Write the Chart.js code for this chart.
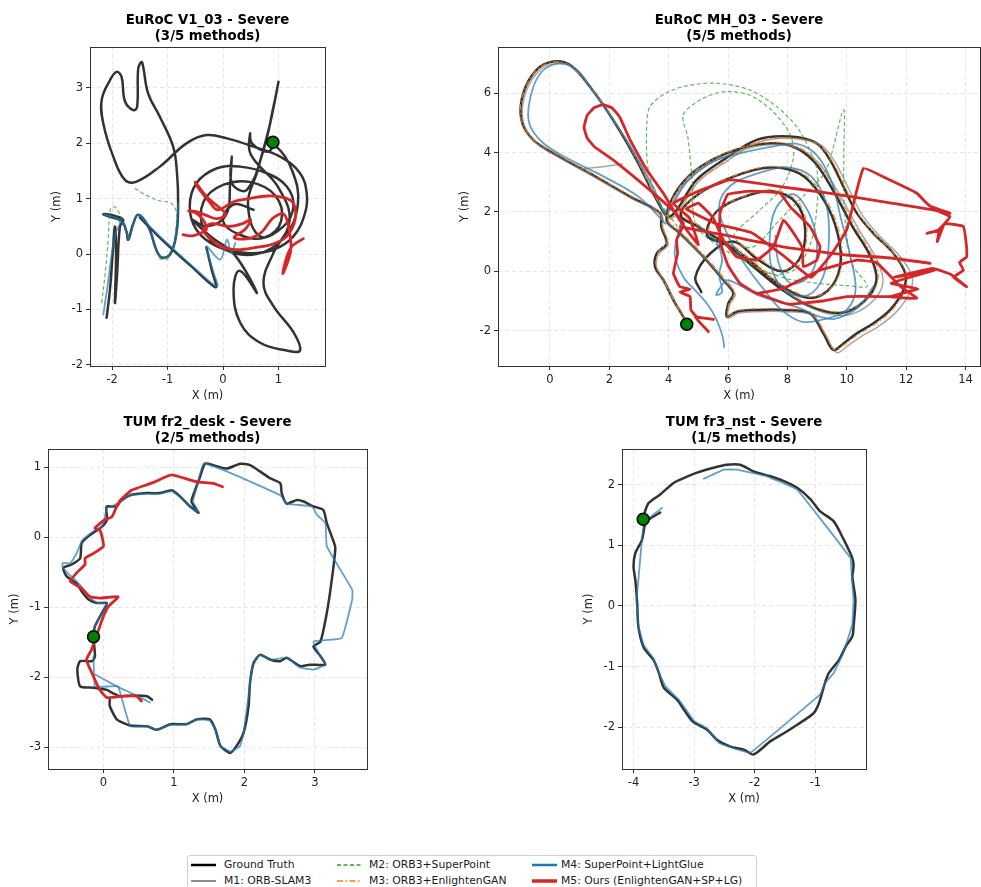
<!DOCTYPE html>
<html>
<head>
<meta charset="utf-8">
<script src="https://cdn.jsdelivr.net/npm/chart.js@4.4.1/dist/chart.umd.min.js"></script>
<style>
  html,body{margin:0;padding:0;background:#fff;}
  body{width:981px;height:887px;overflow:hidden;position:relative;font-family:"DejaVu Sans",sans-serif;}
  canvas{position:absolute;}
  #legend{position:absolute;left:187px;top:855px;width:570px;height:40px;border:1px solid #d0d0d0;border-radius:3px;background:#fff;box-sizing:border-box;}
  .li{position:absolute;font-size:10.8px;color:#1a1a1a;white-space:nowrap;line-height:12px;}
  .ls{position:absolute;}
</style>
</head>
<body>
<canvas id="c1"></canvas>
<canvas id="c2"></canvas>
<canvas id="c3"></canvas>
<canvas id="c4"></canvas>
<div id="legend"></div>
<script>
// ---------------- titles / labels ----------------
const titles = [
  ["EuRoC V1_03 - Severe", "(3/5 methods)"],
  ["EuRoC MH_03 - Severe", "(5/5 methods)"],
  ["TUM fr2_desk - Severe", "(2/5 methods)"],
  ["TUM fr3_nst - Severe", "(1/5 methods)"]
];
const legendLabels = ["Ground Truth", "M1: ORB-SLAM3", "M2: ORB3+SuperPoint", "M3: ORB3+EnlightenGAN", "M4: SuperPoint+LightGlue", "M5: Ours (EnlightenGAN+SP+LG)"];

// ---------------- EuRoC V1_03 ----------------
const v1GT = [[-2.10,-1.15],[-2.04,-0.64],[-1.99,0.02],[-1.95,0.50],[-1.93,-0.04],[-1.95,-0.88],[-1.91,-0.34],[-1.86,0.50],[-1.80,0.62],[-1.95,0.69],[-2.16,0.72],[-2.03,0.67],[-1.83,0.60],[-1.74,0.40],[-1.71,0.26],[-1.62,0.55],[-1.53,0.71],[-1.35,0.50],[-1.14,-0.04],[-0.96,-0.01],[-0.84,0.38],[-0.81,0.92],[-0.83,1.46],[-0.90,1.94],[-1.14,2.48],[-1.35,2.90],[-1.44,3.38],[-1.47,3.47],[-1.53,3.35],[-1.55,2.66],[-1.62,2.60],[-1.77,2.76],[-1.83,3.20],[-1.92,3.29],[-2.04,3.14],[-2.19,2.78],[-2.16,2.36],[-1.98,1.76],[-1.77,1.34],[-1.56,1.31],[-1.14,1.58],[-0.66,2.00],[-0.30,2.15],[0.07,2.09],[0.55,1.94],[1.03,1.76],[1.39,1.46],[1.51,1.10],[1.48,0.74],[1.27,0.32],[0.91,0.08],[0.43,0.02],[-0.11,0.14],[-0.48,0.44],[-0.60,0.86],[-0.48,1.28],[-0.11,1.55],[0.31,1.58],[0.79,1.46],[1.15,1.22],[1.27,0.86],[1.09,0.50],[0.67,0.32],[0.45,0.90],[0.62,1.50],[0.85,2.36],[1.00,3.11],[0.91,2.66],[0.73,1.88],[0.43,1.16],[0.16,1.28],[0.16,1.76],[0.13,1.30],[0.05,0.70],[-0.30,0.50],[-0.55,0.62],[-0.20,0.30],[0.20,0.00],[0.61,-0.70],[0.30,-0.30],[0.19,-0.64],[0.31,-1.24],[0.67,-1.60],[1.15,-1.74],[1.39,-1.74],[1.27,-1.41],[0.91,-0.94],[0.73,-0.52],[0.90,0.00],[1.20,0.60],[1.00,1.20],[0.50,1.80],[0.49,2.18],[0.52,2.00],[0.80,1.85],[0.95,1.95],[1.25,1.50],[1.35,0.90],[1.10,0.30],[0.60,0.00],[0.00,0.10],[-0.35,0.45],[-0.35,0.95],[0.00,1.25],[0.50,1.30],[0.95,1.05],[1.05,0.60],[0.75,0.30],[0.30,0.35],[0.00,0.60],[0.20,0.90],[0.55,0.80]];
const v1GTb = [[-1.50,0.66],[-1.10,0.26],[-0.55,-0.24],[-0.13,-0.60],[-0.20,-0.30],[-0.30,0.12]];
const v1M2a = [[-2.19,-0.88],[-2.12,-0.30],[-2.07,0.30],[-2.03,0.82],[-1.95,0.85],[-1.86,0.72],[-1.80,0.55],[-1.74,0.38],[-1.68,0.28]];
const v1M2b = [[-1.59,1.19],[-1.40,1.07],[-1.14,0.96],[-0.95,0.93],[-0.84,0.76],[-0.86,0.40],[-0.90,0.08],[-1.02,-0.10],[-1.15,-0.08]];
const v1M4a = [[-2.16,-1.09],[-2.08,-0.55],[-2.00,0.05],[-1.93,0.40],[-1.86,0.58],[-2.00,0.68],[-2.16,0.72],[-2.02,0.68],[-1.83,0.60],[-1.74,0.40],[-1.70,0.26],[-1.62,0.55],[-1.53,0.71],[-1.35,0.50],[-1.14,-0.04],[-0.96,-0.01],[-0.84,0.38],[-0.81,0.92]];
const v1M4b = [[-1.50,0.68],[-1.10,0.28],[-0.55,-0.22],[-0.11,-0.58],[-0.17,-0.33],[-0.30,0.14],[-0.05,-0.10],[0.07,0.26],[0.15,0.02],[0.22,0.20]];
const v1M5 = [[-0.72,0.35],[-0.55,0.33],[-0.40,0.38],[-0.30,0.45],[-0.36,0.62],[-0.50,0.75],[-0.62,0.78],[-0.45,0.76],[-0.30,0.70],[-0.11,0.64],[0.05,0.72],[-0.08,0.85],[-0.30,1.04],[-0.50,1.30],[-0.45,1.20],[-0.25,0.95],[-0.10,0.80],[0.20,0.95],[0.45,1.00],[0.80,1.05],[1.10,1.02],[1.27,0.92],[1.30,0.62],[1.15,0.32],[0.90,0.18],[0.60,0.12],[0.25,0.08],[-0.05,0.14],[-0.25,0.30],[-0.36,0.44],[-0.20,0.55],[0.10,0.50],[0.35,0.55],[0.50,0.62],[0.40,0.45],[0.20,0.30],[0.45,0.28],[0.70,0.40],[0.90,0.65],[1.10,0.72],[1.20,0.40],[1.22,0.05],[1.08,-0.35],[1.15,-0.05],[1.25,0.15],[1.45,0.28]];
const v1Start = [[0.90,2.02]];

// ---------------- EuRoC MH_03 ----------------
const v2GT = [[4.61,-1.78],[4.49,-1.53],[4.16,-0.97],[3.82,-0.29],[3.54,0.16],[3.60,0.61],[3.93,0.94],[3.75,1.50],[3.71,1.96],[2.70,2.52],[1.35,3.30],[0.22,3.92],[-0.56,4.43],[-0.96,5.10],[-0.90,6.00],[-0.45,6.79],[0.11,7.07],[0.67,6.96],[1.35,6.22],[2.13,5.10],[2.92,3.75],[3.60,2.40],[4.04,1.84],[4.94,3.08],[5.84,3.75],[6.97,4.43],[8.09,4.54],[8.99,4.31],[9.44,3.75],[9.89,2.85],[10.34,1.96],[10.90,1.28],[11.57,0.61],[11.97,-0.07],[11.91,-0.63],[11.46,-1.30],[10.90,-1.75],[10.34,-2.09],[9.89,-2.43],[9.55,-2.65],[9.21,-2.09],[8.76,-1.42],[7.87,-1.30],[6.97,-1.30],[6.29,-1.36],[5.96,-1.53],[6.01,-1.08],[6.18,-0.74],[5.84,-0.29],[5.17,0.49],[4.38,1.28],[3.93,1.73],[4.20,2.60],[4.90,3.40],[6.00,4.00],[7.20,4.30],[8.20,4.20],[8.90,3.70],[9.50,2.80],[10.20,1.50],[10.80,0.50],[11.00,-0.30],[10.60,-1.00],[9.80,-1.40],[8.80,-1.20],[7.80,-0.60],[6.80,0.20],[5.80,1.00],[5.00,1.50],[4.40,1.90],[5.00,2.60],[6.20,3.20],[7.40,3.50],[8.40,3.30],[9.10,2.60],[9.60,1.60],[9.80,0.40],[9.50,-0.50],[8.80,-0.90],[7.80,-0.50],[6.80,0.30],[6.00,0.90],[5.30,1.20],[5.60,2.00],[6.50,2.50],[7.50,2.70],[8.30,2.30],[8.60,1.40],[8.40,0.40],[7.80,0.00],[7.00,0.40],[6.20,1.00],[5.40,0.60],[4.90,-0.20],[5.10,-0.70]];
const v2M1a = [[4.66,-1.82],[4.55,-1.58],[4.22,-1.02],[3.88,-0.34],[3.60,0.10],[3.65,0.56],[3.98,0.90],[3.80,1.45],[3.76,1.90],[2.76,2.45],[1.42,3.22],[0.30,3.84],[-0.50,4.36],[-0.90,5.05],[-0.84,5.95],[-0.40,6.72],[0.14,7.00],[0.70,6.90],[1.40,6.18],[2.18,5.06],[2.98,3.70],[3.66,2.35],[4.10,1.78],[5.00,3.02],[5.92,3.68],[7.06,4.36],[8.20,4.48],[9.12,4.26],[9.60,3.70],[10.06,2.80],[10.52,1.90],[11.10,1.20],[11.78,0.52],[12.20,-0.16],[12.12,-0.72],[11.64,-1.40],[11.06,-1.86],[10.48,-2.20],[10.02,-2.52],[9.66,-2.74],[9.30,-2.16],[8.84,-1.48],[7.92,-1.36],[7.00,-1.36],[6.32,-1.42],[6.00,-1.58],[6.06,-1.12],[6.24,-0.78],[5.90,-0.34],[5.22,0.44],[4.44,1.22],[3.98,1.68],[4.26,2.56],[4.98,3.36],[6.10,3.96],[7.32,4.26],[8.34,4.16],[9.06,3.64],[9.68,2.72],[10.40,1.42],[11.00,0.42],[11.22,-0.38],[10.80,-1.08],[9.96,-1.48],[8.92,-1.28],[7.90,-0.66]];
const v2M1b = [[1.00,3.45],[1.70,3.52],[2.45,3.62]];
const v2M2 = [[4.30,1.50],[3.60,2.50],[3.30,3.50],[3.26,4.88],[3.37,5.55],[3.90,6.00],[4.60,6.25],[5.62,6.34],[6.74,6.11],[7.64,5.55],[8.31,4.88],[8.70,4.20],[9.00,3.40],[9.00,2.20],[8.80,1.00],[8.30,0.10],[7.50,-0.10],[6.50,0.40],[5.60,0.90],[4.90,1.60],[4.80,3.00],[4.65,4.50],[4.49,5.27],[5.10,5.80],[5.84,6.05],[6.70,5.95],[7.50,5.40],[8.10,4.60],[8.20,3.80],[7.80,2.80],[7.00,2.00],[6.20,1.20],[6.80,0.80],[7.80,1.80],[8.60,2.60],[9.30,3.40],[9.89,5.44],[9.90,4.00],[9.90,2.60],[10.00,1.20],[10.20,0.20],[10.70,-0.50],[10.00,-0.48],[9.00,-0.40],[8.00,-0.25],[7.00,0.10]];
const v2M3 = [[4.55,-1.70],[4.40,-1.40],[4.10,-0.85],[3.78,-0.20],[3.58,0.25],[3.66,0.66],[3.95,1.00],[3.78,1.55],[3.68,2.00],[2.66,2.58],[1.30,3.36],[0.18,3.98],[-0.60,4.50],[-0.98,5.15],[-0.88,6.05],[-0.40,6.82],[0.16,7.06],[0.72,6.92],[1.40,6.16],[2.18,5.04],[2.97,3.70],[3.64,2.36],[4.08,1.80],[4.98,3.02],[5.90,3.70],[7.02,4.38],[8.12,4.48],[9.05,4.25],[9.52,3.70],[9.96,2.80],[10.42,1.90],[10.98,1.22],[11.62,0.56],[12.02,-0.12],[11.96,-0.66],[11.52,-1.32],[10.96,-1.78],[10.40,-2.12],[9.94,-2.46],[9.58,-2.62],[9.25,-2.05],[8.80,-1.38],[7.90,-1.26],[7.00,-1.26],[6.32,-1.32],[6.00,-1.50],[6.05,-1.04],[6.22,-0.70],[5.88,-0.24],[5.20,0.54],[4.42,1.32],[3.97,1.77],[4.25,2.64],[4.96,3.44],[6.06,4.04],[7.26,4.34],[8.26,4.24],[8.96,3.74],[9.56,2.84],[10.26,1.54],[10.86,0.54],[11.06,-0.26],[10.66,-0.96],[9.86,-1.36],[8.86,-1.16],[7.86,-0.56],[6.86,0.24],[5.86,1.04],[5.06,1.54],[4.46,1.94],[5.06,2.64],[6.26,3.24],[7.46,3.54],[8.46,3.34],[9.16,2.64],[9.66,1.64],[9.86,0.44],[9.56,-0.46],[8.86,-0.86],[7.86,-0.46],[6.86,0.34],[6.06,0.94],[5.36,1.24],[5.66,2.04],[6.56,2.54],[7.56,2.74],[8.36,2.34],[8.66,1.44],[8.46,0.44],[7.86,0.04],[7.06,0.44],[6.26,1.04]];
const v2M4a = [[3.90,1.60],[3.00,2.50],[1.80,3.20],[0.80,3.70],[-0.20,4.30],[-0.70,5.00],[-0.65,5.90],[-0.30,6.70],[0.30,7.00],[0.90,6.80],[1.50,6.00],[2.20,5.00],[2.90,3.90],[3.50,2.80],[3.90,2.00],[4.60,3.00],[5.50,3.70],[6.50,4.00],[7.50,4.20],[8.30,4.30],[9.00,3.90],[9.50,3.00],[9.80,1.80],[10.10,0.60],[10.30,-0.60],[10.00,-1.30],[9.30,-1.60],[8.50,-1.70],[7.80,-1.30],[7.20,-0.60],[6.60,0.20],[6.00,1.20],[5.70,2.20],[6.10,2.90],[7.00,3.30],[8.00,3.50],[8.80,3.20],[9.30,2.30],[9.40,1.00],[9.20,-0.20],[8.70,-0.80],[8.00,-0.70],[7.50,0.00],[7.40,1.00],[7.60,2.10],[8.20,2.60],[8.80,1.80],[9.00,0.60],[8.70,-0.20],[8.10,-0.40],[7.70,0.30],[7.60,1.20]];
const v2M4b = [[4.40,1.60],[4.20,0.60],[4.50,-0.20],[4.95,-0.70],[5.30,-1.10],[5.60,-1.60],[5.82,-2.20],[5.87,-2.55]];
const v2M4c = [[5.00,1.50],[5.60,1.00],[5.80,0.40],[5.70,-0.10],[5.80,-0.70],[5.60,-0.80],[5.70,-0.60],[6.00,-0.30],[7.00,-0.80],[8.30,-1.20],[9.00,-1.50],[9.60,-1.60],[10.40,-1.20],[10.90,-0.50]];
const v2M5a = [[5.34,-2.03],[4.90,-1.55],[5.51,-1.62],[4.94,-1.53],[4.75,-1.30],[4.72,-0.85],[4.38,-0.70],[4.72,-0.60],[4.38,-0.52],[4.16,-0.07],[4.30,0.60],[4.27,1.06],[4.50,1.60],[4.20,2.00],[3.70,2.45],[3.00,3.05],[2.20,3.70],[1.50,4.20],[1.25,4.50],[1.15,4.85],[1.25,5.25],[1.50,5.52],[1.80,5.62],[2.10,5.50],[2.35,5.20],[2.70,4.43],[3.26,3.42],[3.82,2.63],[4.20,2.00],[4.60,1.40],[5.00,0.90],[4.70,1.80],[4.16,2.29],[5.00,2.70],[6.07,3.08],[7.80,2.85],[9.44,2.63],[11.50,2.30],[13.00,2.05],[13.48,1.84],[13.10,1.40],[12.70,1.28],[13.10,1.35],[13.05,1.00],[13.30,1.60],[13.93,1.51],[14.04,0.80],[14.04,0.49],[13.80,0.30],[13.93,0.04],[13.60,-0.20],[14.04,-0.52],[13.50,-0.10],[12.90,0.10],[11.60,-0.20],[12.96,0.04],[11.50,-0.40],[12.40,-0.60],[11.46,-0.85],[12.36,-0.91],[11.80,-0.50],[11.00,0.30],[10.34,0.38],[9.10,0.04],[8.43,-0.29],[7.87,-0.57],[6.97,-0.74],[6.40,-0.40],[6.00,0.20],[5.73,1.00],[5.73,1.96],[6.00,2.60],[6.80,2.70],[7.75,2.63],[8.09,2.18],[8.76,1.51],[9.10,0.83],[8.99,0.38],[8.54,0.16],[8.50,0.80],[8.20,1.30],[7.87,1.73],[7.53,0.83],[6.97,0.38],[6.29,0.49],[5.84,1.06],[5.50,1.80],[5.00,2.30],[4.60,2.10],[5.60,1.60],[6.80,1.30],[7.90,0.50],[8.80,-0.20],[9.50,0.60],[10.00,1.40],[10.56,3.47],[11.40,3.10],[12.36,2.63],[12.80,2.20],[13.48,1.96]];
const v2M5b = [[4.40,1.50],[6.00,1.20],[8.00,0.80],[10.00,0.55],[11.50,0.45],[12.81,0.27]];
const v2M5c = [[6.97,-0.74],[8.00,-1.10],[9.20,-1.00],[10.00,-0.85],[11.46,-0.85]];
const v2Start = [[4.61,-1.78]];

// ---------------- TUM fr2_desk ----------------
const v3GT = [[0.69,-2.32],[0.62,-2.27],[0.45,-2.26],[0.24,-2.27],[0.12,-2.22],[0.05,-2.18],[-0.14,-2.15],[-0.33,-2.13],[-0.37,-1.89],[-0.33,-1.77],[-0.16,-1.77],[-0.12,-1.70],[-0.14,-1.42],[-0.12,-1.27],[-0.02,-1.08],[0.05,-0.94],[-0.09,-0.94],[-0.21,-0.89],[-0.31,-0.77],[-0.38,-0.66],[-0.52,-0.56],[-0.57,-0.44],[-0.45,-0.39],[-0.33,-0.30],[-0.31,-0.09],[-0.24,-0.01],[-0.12,0.08],[-0.02,0.15],[0.05,0.25],[0.04,0.40],[0.05,0.44],[0.19,0.44],[0.24,0.51],[0.38,0.60],[0.62,0.63],[0.80,0.63],[0.97,0.67],[1.09,0.58],[1.23,0.44],[1.35,0.35],[1.25,0.51],[1.30,0.67],[1.37,0.86],[1.44,1.05],[1.56,1.03],[1.75,0.98],[1.94,1.05],[2.08,1.03],[2.22,0.94],[2.37,0.84],[2.51,0.77],[2.53,0.63],[2.60,0.48],[2.74,0.53],[2.84,0.51],[2.98,0.44],[3.12,0.39],[3.17,0.20],[3.24,0.01],[3.29,-0.15],[3.24,-0.61],[3.17,-1.08],[3.08,-1.49],[2.98,-1.56],[3.08,-1.70],[3.15,-1.82],[2.93,-1.82],[2.79,-1.84],[2.60,-1.72],[2.51,-1.77],[2.37,-1.75],[2.22,-1.68],[2.13,-1.80],[2.08,-2.08],[2.06,-2.41],[1.99,-2.79],[1.89,-2.98],[1.80,-3.08],[1.66,-2.98],[1.59,-2.75],[1.51,-2.60],[1.33,-2.60],[1.18,-2.67],[0.95,-2.67],[0.76,-2.75],[0.62,-2.70],[0.38,-2.69],[0.19,-2.60],[0.09,-2.41],[0.09,-2.32]];
const v3M4a = [[-0.14,-1.42],[-0.12,-1.27],[-0.02,-1.08],[0.05,-0.94],[-0.09,-0.94],[-0.21,-0.85],[-0.30,-0.72],[-0.38,-0.63],[-0.50,-0.52],[-0.58,-0.42],[-0.58,-0.37],[-0.47,-0.37],[-0.38,-0.23],[-0.31,-0.06],[-0.24,0.01],[-0.12,0.10],[-0.02,0.15],[0.02,0.29],[0.05,0.42],[0.12,0.44],[0.24,0.51],[0.38,0.60],[0.62,0.62],[0.80,0.62],[0.97,0.66],[1.09,0.57],[1.23,0.43],[1.35,0.36],[1.27,0.51],[1.32,0.70],[1.42,1.05],[1.75,0.94],[2.51,0.60],[2.60,0.48],[2.96,0.44],[3.03,0.32],[3.15,0.20],[3.17,-0.13],[3.53,-0.75],[3.53,-0.89],[3.38,-1.44],[2.98,-1.49],[3.08,-1.70],[3.15,-1.82],[2.98,-1.89],[2.79,-1.86],[2.60,-1.72],[2.37,-1.75],[2.22,-1.68],[2.13,-1.78],[2.08,-2.08],[2.04,-2.41],[1.99,-2.79],[1.94,-2.98],[1.80,-3.06],[1.66,-2.98],[1.59,-2.75],[1.51,-2.62],[1.33,-2.60],[1.18,-2.67],[0.95,-2.68],[0.76,-2.75],[0.62,-2.70],[0.38,-2.70],[0.21,-2.13],[0.09,-2.13],[-0.12,-2.13],[-0.14,-1.70]];
const v3M4b = [[-0.12,-1.96],[0.19,-2.13],[0.45,-2.25],[0.66,-2.36]];
const v3M5 = [[0.54,-2.34],[0.47,-2.27],[0.28,-2.27],[0.05,-2.29],[-0.05,-2.18],[-0.14,-1.99],[-0.24,-1.75],[-0.17,-1.61],[-0.12,-1.47],[-0.05,-1.27],[0.00,-1.13],[0.07,-0.99],[0.21,-0.85],[-0.05,-0.87],[-0.19,-0.85],[-0.31,-0.73],[-0.47,-0.63],[-0.38,-0.51],[-0.26,-0.39],[-0.26,-0.30],[-0.14,-0.23],[0.00,-0.13],[-0.02,0.01],[-0.05,0.10],[-0.12,0.13],[0.02,0.25],[0.12,0.29],[0.19,0.44],[0.24,0.53],[0.40,0.67],[0.62,0.75],[0.73,0.79],[0.88,0.86],[0.97,0.89],[1.09,0.86],[1.33,0.79],[1.56,0.77],[1.69,0.72]];
const v3Start = [[-0.14,-1.42]];

// ---------------- TUM fr3_nst ----------------
const v4GT = [[-3.56,1.54],[-3.70,1.46],[-3.80,1.38],[-3.86,1.09],[-3.97,0.87],[-4.00,0.65],[-3.97,0.43],[-3.94,0.05],[-3.92,-0.34],[-3.83,-0.69],[-3.67,-0.89],[-3.58,-1.11],[-3.50,-1.35],[-3.28,-1.55],[-3.03,-1.90],[-2.79,-2.04],[-2.62,-2.21],[-2.40,-2.32],[-2.18,-2.37],[-2.02,-2.45],[-1.74,-2.23],[-1.52,-2.10],[-1.30,-1.96],[-1.03,-1.77],[-0.94,-1.60],[-0.86,-1.33],[-0.78,-1.11],[-0.61,-0.89],[-0.50,-0.67],[-0.39,-0.50],[-0.37,-0.34],[-0.34,0.10],[-0.39,0.49],[-0.37,0.65],[-0.39,0.79],[-0.53,1.09],[-0.70,1.40],[-0.92,1.56],[-1.08,1.76],[-1.30,1.95],[-1.52,2.06],[-1.74,2.14],[-2.02,2.22],[-2.24,2.33],[-2.46,2.33],[-2.68,2.28],[-2.95,2.20],[-3.17,2.11],[-3.34,2.03],[-3.56,1.84],[-3.75,1.70],[-3.81,1.56],[-3.84,1.43]];
const v4M4 = [[-3.53,1.62],[-3.83,1.37],[-3.92,0.43],[-3.95,0.10],[-3.92,-0.34],[-3.83,-0.65],[-3.67,-0.87],[-3.58,-1.11],[-3.47,-1.33],[-3.25,-1.55],[-3.00,-1.90],[-2.79,-2.02],[-2.59,-2.26],[-2.37,-2.34],[-2.07,-2.42],[-0.92,-1.46],[-0.84,-1.27],[-0.70,-1.11],[-0.55,-0.80],[-0.45,-0.50],[-0.39,-0.30],[-0.37,0.10],[-0.40,0.50],[-0.42,0.79],[-1.30,1.92],[-1.80,2.14],[-2.29,2.25],[-2.51,2.25],[-2.84,2.10]];
const v4Start = [[-3.84,1.43]];

// ---------------- styles ----------------
const STY = {
  gt: {c:'rgba(0,0,0,0.8)', w:2.5, d:[], o:10},
  m1: {c:'rgba(128,128,128,0.7)', w:1.5, d:[], o:9},
  m2: {c:'rgba(44,160,44,0.75)', w:1.2, d:[4,2.5], o:8},
  m3: {c:'rgba(255,127,14,0.85)', w:1.2, d:[6,2.5,1.5,2.5], o:7},
  m4: {c:'rgba(31,119,180,0.7)', w:1.8, d:[], o:6},
  m5: {c:'rgba(214,39,40,1)', w:2.8, d:[], o:5}
};
const FONT = '"DejaVu Sans", sans-serif';

function lineDs(pts, s, tension) {
  return {
    data: pts.map(p => ({x:p[0], y:p[1]})),
    showLine: true, borderColor: s.c, borderWidth: s.w, borderDash: s.d,
    pointRadius: 0, pointHoverRadius: 0, fill: false, tension: tension || 0, order: s.o,
    borderJoinStyle: 'round', borderCapStyle: s.d.length ? 'butt' : 'round'
  };
}
function startDs(pts) {
  return {
    data: pts.map(p => ({x:p[0], y:p[1]})),
    showLine: false, pointRadius: 6, pointHoverRadius: 6,
    backgroundColor: '#008000', borderColor: '#000', borderWidth: 1.5, order: 0
  };
}

const framePlugin = {
  id: 'frame',
  afterDraw(chart) {
    const a = chart.chartArea, ctx = chart.ctx;
    ctx.save();
    ctx.strokeStyle = '#333';
    ctx.lineWidth = 1;
    ctx.strokeRect(Math.round(a.left) + 0.5, Math.round(a.top) + 0.5, Math.round(a.right - a.left), Math.round(a.bottom - a.top));
    ctx.restore();
  }
};

const YW = 40, XH = 37, TH = 45, RP = 12;
function makeChart(id, box, xr, yr, step, title, datasets) {
  const cv = document.getElementById(id);
  const w = (box.r - box.l) + YW + RP, h = (box.b - box.t) + TH + XH;
  cv.width = w; cv.height = h;
  cv.style.width = w + 'px'; cv.style.height = h + 'px';
  cv.style.left = (box.l - YW) + 'px'; cv.style.top = (box.t - TH) + 'px';
  const tickFont = {family: FONT, size: 11.5};
  const common = (lbl, minv, maxv, isX) => ({
    type: 'linear', min: minv, max: maxv, position: isX ? 'bottom' : 'left',
    ticks: {stepSize: step, includeBounds: false, font: tickFont, color: '#222', maxRotation: 0, autoSkip: false, padding: 3},
    grid: {color: 'rgba(0,0,0,0.13)', lineWidth: 0.8, tickColor: '#333', tickLength: 4, tickWidth: 1, drawTicks: true},
    border: {display: false, dash: [4, 3]},
    title: {display: true, text: lbl, font: {family: FONT, size: 11.5}, color: '#222', padding: {top: 0, bottom: 0}},
    afterFit(s) { if (isX) s.height = XH; else s.width = YW; }
  });
  return new Chart(cv, {
    type: 'scatter',
    data: {datasets},
    options: {
      responsive: false, animation: false, devicePixelRatio: 1,
      layout: {padding: {left: 0, right: RP, top: 0, bottom: 0}},
      plugins: {
        legend: {display: false}, tooltip: {enabled: false},
        title: {display: true, fullSize: false, text: title, color: '#000',
          font: {family: FONT, size: 13.3, weight: 'bold', lineHeight: 1.17},
          padding: {top: TH - 2 * 13.3 * 1.17 - 3, bottom: 3}}
      },
      scales: {x: common('X (m)', xr[0], xr[1], true), y: common('Y (m)', yr[0], yr[1], false)}
    },
    plugins: [framePlugin]
  });
}

makeChart('c1', {l:90, t:47, r:325, b:366}, [-2.40, 1.84], [-2.02, 3.74], 1, titles[0], [
  startDs(v1Start), lineDs(v1M5, STY.m5, 0.35), lineDs(v1M4a, STY.m4, 0.35), lineDs(v1M4b, STY.m4, 0.35),
  lineDs(v1M2a, STY.m2, 0.35), lineDs(v1M2b, STY.m2, 0.35), lineDs(v1GT, STY.gt, 0.4), lineDs(v1GTb, STY.gt, 0.3)
]);
makeChart('c2', {l:498, t:47, r:980, b:366}, [-1.75, 14.49], [-3.19, 7.56], 2, titles[1], [
  startDs(v2Start), lineDs(v2M5a, STY.m5, 0.1), lineDs(v2M5b, STY.m5, 0.1), lineDs(v2M5c, STY.m5, 0.1),
  lineDs(v2M4a, STY.m4, 0.35), lineDs(v2M4b, STY.m4, 0.3), lineDs(v2M4c, STY.m4, 0.3),
  lineDs(v2M3, STY.m3, 0.35), lineDs(v2M2, STY.m2, 0.3), lineDs(v2M1a, STY.m1, 0.35), lineDs(v2M1b, STY.m1, 0.2), lineDs(v2GT, STY.gt, 0.35)
]);
makeChart('c3', {l:48, t:449, r:367, b:769}, [-0.786, 3.74], [-3.31, 1.26], 1, titles[2], [
  startDs(v3Start), lineDs(v3M5, STY.m5, 0.15), lineDs(v3M4a, STY.m4, 0.1), lineDs(v3M4b, STY.m4, 0.1), lineDs(v3GT, STY.gt, 0.2)
]);
makeChart('c4', {l:622, t:449, r:866, b:769}, [-4.19, -0.165], [-2.69, 2.59], 1, titles[3], [
  startDs(v4Start), lineDs(v4M4, STY.m4, 0.05), lineDs(v4GT, STY.gt, 0.25)
]);

// ---------------- legend (HTML) ----------------
const legendStyles = [
  {c:'#000', w:2.5, d:''}, {c:'#808080', w:1.8, d:''}, {c:'#2ca02c', w:1.5, d:'4,2.5'},
  {c:'#ff7f0e', w:1.5, d:'6,2.5,1.5,2.5'}, {c:'#1f77b4', w:2.5, d:''}, {c:'#d62728', w:3.5, d:''}
];
const legPos = [[3,9],[3,25],[149,9],[149,25],[344,9],[344,25]];
const textX = [36,181,373];
const lg = document.getElementById('legend');
legendLabels.forEach((lab, i) => {
  const [lx, cy] = legPos[i];
  const st = legendStyles[i];
  const svg = document.createElementNS('http://www.w3.org/2000/svg', 'svg');
  svg.setAttribute('width', 26); svg.setAttribute('height', 8);
  svg.setAttribute('class', 'ls');
  svg.style.left = lx + 'px'; svg.style.top = (cy - 4) + 'px';
  const ln = document.createElementNS('http://www.w3.org/2000/svg', 'line');
  ln.setAttribute('x1', 0); ln.setAttribute('x2', 25); ln.setAttribute('y1', 4); ln.setAttribute('y2', 4);
  ln.setAttribute('stroke', st.c); ln.setAttribute('stroke-width', st.w);
  if (st.d) ln.setAttribute('stroke-dasharray', st.d);
  svg.appendChild(ln);
  lg.appendChild(svg);
  const t = document.createElement('div');
  t.className = 'li'; t.textContent = lab;
  t.style.left = textX[Math.floor(i / 2)] + 'px'; t.style.top = (cy - 6) + 'px';
  lg.appendChild(t);
});
</script>
</body>
</html>
